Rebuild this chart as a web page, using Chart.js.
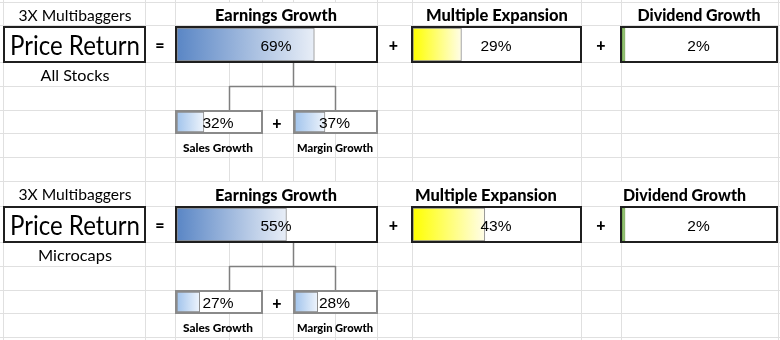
<!DOCTYPE html>
<html>
<head>
<meta charset="utf-8">
<script src="https://cdn.jsdelivr.net/npm/chart.js@4/dist/chart.umd.min.js"></script>
<style>
  html, body { margin: 0; padding: 0; background: #fff; }
  #stage { position: relative; width: 780px; height: 340px; overflow: hidden; background: #fff; }
  #grid { position: absolute; left: 0; top: 0; }
  .box { position: absolute; box-sizing: border-box; background: #fff; }
  .box canvas { position: absolute; left: 0; top: 0; }
  .t { position: absolute; white-space: nowrap; line-height: 1; color: #000; font-family: Lato, "Noto Sans", sans-serif; }
  .b { font-weight: 900; }
  .v { font-family: "Liberation Sans", Arial, sans-serif; font-size: 15.5px; }
</style>
</head>
<body>
<div id="stage"><canvas id="grid" width="780" height="340"></canvas></div>
<script>
// ---- data ----
const groups = ["All Stocks", "Microcaps"];
const components = ["Earnings Growth", "Multiple Expansion", "Dividend Growth"];
const subComponents = ["Sales Growth", "Margin Growth"];
const earningsGrowth = [69, 55];
const multipleExpansion = [29, 43];
const dividendGrowth = [2, 2];
const salesGrowth = [32, 27];
const marginGrowth = [37, 28];
const scaleTicks = [0, 100];

// ---- layout helpers ----
const stage = document.getElementById('stage');
const BLOCK = 180;

function gridLines() {
  const g = document.getElementById('grid').getContext('2d');
  g.strokeStyle = '#e0e0e0';
  g.lineWidth = 1;
  const hs = [2, 25, 62, 86, 110, 133, 157, 181, 206, 242, 266, 290, 313, 337];
  hs.forEach(y => { g.beginPath(); g.moveTo(0, y + 0.5); g.lineTo(780, y + 0.5); g.stroke(); });
  const vAll = [3, 145, 175, 229, 262, 293, 335, 377, 412, 581, 621, 778];
  const titleRowsV = [[3, 145, 175, 377, 412, 581, 621, 778], [3, 145, 175, 377, 581, 778]];
  for (let i = 0; i < hs.length - 1; i++) {
    const y0 = hs[i], y1 = hs[i + 1];
    let vs = vAll;
    if (y0 === 2) vs = titleRowsV[0];
    if (y0 === 181) vs = titleRowsV[1];
    vs.forEach(x => { g.beginPath(); g.moveTo(x + 0.5, y0); g.lineTo(x + 0.5, y1); g.stroke(); });
  }
  vAll.forEach(x => { g.beginPath(); g.moveTo(x + 0.5, 337); g.lineTo(x + 0.5, 340); g.stroke(); });
  vAll.forEach(x => { g.beginPath(); g.moveTo(x + 0.5, 0); g.lineTo(x + 0.5, 2); g.stroke(); });
  // connectors
  g.strokeStyle = '#7f7f7f';
  g.lineWidth = 1.5;
  for (let b = 0; b < 2; b++) {
    const o = b * BLOCK;
    g.beginPath();
    g.moveTo(293.5, 62 + o); g.lineTo(293.5, 86 + o);
    g.moveTo(229.5, 86.5 + o); g.lineTo(335.5, 86.5 + o);
    g.moveTo(229.5, 86 + o); g.lineTo(229.5, 110 + o);
    g.moveTo(335.5, 86 + o); g.lineTo(335.5, 110 + o);
    g.stroke();
  }
}

// align: 'c' centred on x, 'l' starts at x. size: font px. targetW: width to fit by horizontal scaling.
function text(str, x, y, align, cls, size, targetW) {
  const d = document.createElement('div');
  d.className = 't ' + (cls || '');
  d.textContent = str;
  d.style.left = x + 'px';
  d.style.top = y + 'px';
  if (size) d.style.fontSize = size + 'px';
  stage.appendChild(d);
  let sx = 1;
  if (targetW) {
    const w = d.getBoundingClientRect().width;
    sx = targetW / w;
  }
  d.style.transformOrigin = align === 'c' ? '50% 50%' : '0 50%';
  d.style.transform = (align === 'c' ? 'translate(-50%,-50%)' : 'translate(0,-50%)') + ' scaleX(' + sx.toFixed(3) + ')';
  return d;
}

function barBox(x, y, w, h, border, value, c0, c1, barBorder) {
  const box = document.createElement('div');
  box.className = 'box';
  box.style.left = x + 'px'; box.style.top = y + 'px';
  box.style.width = w + 'px'; box.style.height = h + 'px';
  box.style.border = border;
  stage.appendChild(box);
  const bw = parseFloat(border);
  const cw = Math.round(w - 2 * bw), chh = Math.round(h - 2 * bw);
  const cv = document.createElement('canvas');
  cv.width = cw; cv.height = chh;
  cv.style.width = cw + 'px'; cv.style.height = chh + 'px';
  box.appendChild(cv);
  new Chart(cv, {
    type: 'bar',
    data: {
      labels: [''],
      datasets: [{
        data: [value],
        backgroundColor: (ctx) => {
          const ch = ctx.chart, a = ch.chartArea;
          if (!a || !ch.scales.x) return c0;
          const v = (ctx.raw !== undefined) ? ctx.raw : value;
          const end = ch.scales.x.getPixelForValue(v);
          const gr = ch.ctx.createLinearGradient(a.left, 0, Math.max(end, a.left + 1), 0);
          gr.addColorStop(0, c0);
          gr.addColorStop(1, c1);
          return gr;
        },
        borderColor: barBorder,
        borderWidth: 1,
        borderSkipped: false,
        barPercentage: 1,
        categoryPercentage: 1
      }]
    },
    options: {
      indexAxis: 'y',
      responsive: false,
      maintainAspectRatio: false,
      animation: false,
      events: [],
      layout: { padding: 0 },
      scales: {
        x: { display: false, min: scaleTicks[0], max: scaleTicks[1] },
        y: { display: false }
      },
      plugins: { legend: { display: false }, tooltip: { enabled: false } }
    }
  });
}

gridLines();

for (let b = 0; b < groups.length; b++) {
  const o = b * BLOCK;
  // left labels
  text('3X Multibaggers', 74.5, 15 + o - (b ? 1 : 0), 'c', '', 16, 113);
  const pr = document.createElement('div');
  pr.className = 'box';
  Object.assign(pr.style, { left: '3px', top: (26 + o) + 'px', width: '143px', height: '37px', border: '2px solid #1f1f1f' });
  stage.appendChild(pr);
  text('Price Return', 74.5, 45 + o, 'c', '', 26, 130);
  text(groups[b], 74.5, 75 + o, 'c', '', 16, b ? 74 : 69);
  text('=', 160, 45 + o, 'c', 'b', 16);
  text('+', 393.5, 45 + o, 'c', 'b', 16);
  text('+', 601, 45 + o, 'c', 'b', 16);
  text('+', 277, 123 + o, 'c', 'b', 16);

  // component titles
  text(components[0], 276, 15 + o - (b ? 0.5 : 0), 'c', 'b', 16.5, 122);
  if (b === 0) {
    text(components[1], 497, 15 + o, 'c', 'b', 16.5, 142);
    text(components[2], 698.5, 15 + o, 'c', 'b', 16.5, 123);
  } else {
    text(components[1], 415, 15 + o - 0.5, 'l', 'b', 16.5, 142);
    text(components[2], 623, 15 + o - 0.5, 'l', 'b', 16.5, 123);
  }

  // main bars
  barBox(175, 26 + o, 203, 37, '2px solid #1f1f1f', earningsGrowth[b], '#5a86c5', '#e8eef7', '#8c8c8c');
  barBox(411, 26 + o, 171, 37, '2px solid #1f1f1f', multipleExpansion[b], '#ffff00', '#fffde8', '#8c8c8c');
  barBox(620, 26 + o, 158, 37, '2px solid #1f1f1f', dividendGrowth[b], '#70ad47', '#b7d9a0', '#7aa85a');
  // sub bars
  barBox(175, 110 + o, 88, 24, '2px solid #8a8a8a', salesGrowth[b], '#a2c4ec', '#eef4fc', '#8c8c8c');
  barBox(293, 110 + o, 85, 24, '2px solid #8a8a8a', marginGrowth[b], '#a2c4ec', '#eef4fc', '#8c8c8c');

  // values
  text(earningsGrowth[b] + '%', 276, 45.5 + o, 'c', 'v');
  text(multipleExpansion[b] + '%', 496, 45.5 + o, 'c', 'v');
  text(dividendGrowth[b] + '%', 698.5, 45.5 + o, 'c', 'v');
  text(salesGrowth[b] + '%', 218, 123 + o, 'c', 'v');
  text(marginGrowth[b] + '%', 334.5, 123 + o, 'c', 'v');

  // sub labels
  text(subComponents[0], 218, 147.5 + o, 'c', 'b', 11.5, 70);
  text(subComponents[1], 335, 147.5 + o, 'c', 'b', 11.5, 76);
}
</script>
</body>
</html>
